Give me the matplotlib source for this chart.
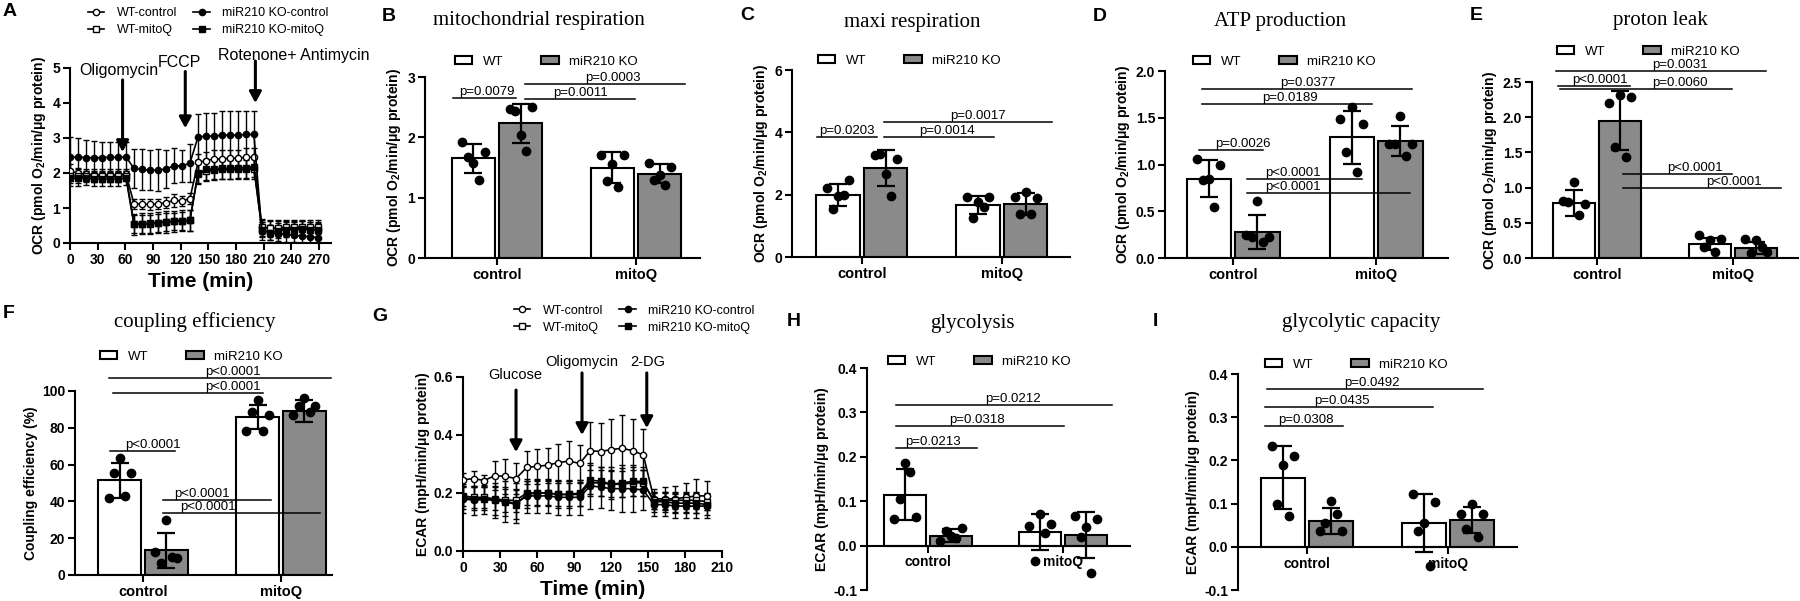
import numpy as np
import matplotlib.pyplot as plt
from matplotlib.patches import Patch
from matplotlib.lines import Line2D

plt.rcParams['font.family'] = 'Liberation Sans'
plt.rcParams['font.weight'] = 'bold'
plt.rcParams['axes.labelweight'] = 'bold'
plt.rcParams['mathtext.fontset'] = 'custom'
plt.rcParams['mathtext.rm'] = 'Liberation Sans:bold'
plt.rcParams['mathtext.it'] = 'Liberation Sans:bold'
plt.rcParams['mathtext.bf'] = 'Liberation Sans:bold'

W, H = 1800, 601
CINZA = '#8a8a8a'

# ---------------- Painel A: OCR ao longo do tempo ----------------
tempo_a = [0, 8.7, 17.3, 26, 34.7, 43.4, 52, 60.7,
           69.4, 78, 86.7, 95.4, 104, 112.7, 121.4, 130,
           138.8, 147.4, 156, 164.8, 173.4, 182, 190.8, 199.4,
           208, 216.8, 225.4, 234, 242.8, 251.4, 260, 268.8]
wt_ctrl_a = [2.05, 2.0, 1.97, 1.95, 1.95, 1.95, 1.95, 1.97,
             1.12, 1.12, 1.1, 1.12, 1.15, 1.22, 1.2, 1.27,
             2.3, 2.35, 2.4, 2.4, 2.42, 2.42, 2.45, 2.45,
             0.45, 0.42, 0.42, 0.42, 0.42, 0.42, 0.4, 0.38]
wt_ctrl_a_err = [0.2, 0.15, 0.15, 0.15, 0.15, 0.15, 0.15, 0.15,
                 0.15, 0.15, 0.15, 0.15, 0.15, 0.18, 0.15, 0.15,
                 0.25, 0.25, 0.25, 0.25, 0.25, 0.25, 0.25, 0.25,
                 0.2, 0.2, 0.2, 0.2, 0.2, 0.2, 0.2, 0.2]
ko_ctrl_a = [2.45, 2.46, 2.44, 2.44, 2.44, 2.45, 2.45, 2.46,
             2.13, 2.1, 2.08, 2.08, 2.12, 2.2, 2.2, 2.28,
             3.03, 3.05, 3.06, 3.08, 3.08, 3.08, 3.1, 3.1,
             0.35, 0.3, 0.27, 0.25, 0.22, 0.2, 0.18, 0.15]
ko_ctrl_a_err = [0.58, 0.55, 0.5, 0.47, 0.45, 0.44, 0.43, 0.42,
                 0.55, 0.58, 0.58, 0.6, 0.55, 0.5, 0.45, 0.55,
                 0.65, 0.65, 0.65, 0.68, 0.68, 0.68, 0.68, 0.68,
                 0.25, 0.22, 0.22, 0.22, 0.2, 0.2, 0.18, 0.15]
wt_mitoq_a = [1.92, 1.9, 1.9, 1.9, 1.9, 1.9, 1.9, 1.92,
              0.55, 0.55, 0.55, 0.57, 0.6, 0.62, 0.63, 0.65,
              2.0, 2.05, 2.08, 2.1, 2.1, 2.1, 2.1, 2.12,
              0.45, 0.42, 0.43, 0.45, 0.45, 0.45, 0.45, 0.45]
wt_mitoq_a_err = [0.2, 0.2, 0.15, 0.15, 0.15, 0.15, 0.15, 0.15,
                  0.25, 0.25, 0.25, 0.25, 0.25, 0.25, 0.25, 0.3,
                  0.28, 0.28, 0.28, 0.28, 0.28, 0.28, 0.28, 0.28,
                  0.25, 0.25, 0.22, 0.22, 0.22, 0.22, 0.22, 0.2]
ko_mitoq_a = [1.85, 1.85, 1.85, 1.83, 1.83, 1.83, 1.83, 1.85,
              0.53, 0.55, 0.56, 0.58, 0.6, 0.62, 0.63, 0.65,
              1.98, 2.1, 2.12, 2.13, 2.13, 2.15, 2.15, 2.18,
              0.38, 0.3, 0.35, 0.38, 0.38, 0.4, 0.38, 0.38]
ko_mitoq_a_err = [0.22, 0.22, 0.2, 0.2, 0.2, 0.2, 0.2, 0.2,
                  0.3, 0.3, 0.3, 0.3, 0.3, 0.3, 0.3, 0.3,
                  0.3, 0.3, 0.3, 0.3, 0.3, 0.3, 0.3, 0.3,
                  0.22, 0.22, 0.22, 0.22, 0.22, 0.22, 0.22, 0.22]
# (x, y topo, y ponta, texto, x texto, y texto, alinhamento)
setas_a = [(57, 4.66, 2.6, 'Oligomycin', 53, 4.94, 'center'),
           (125, 4.9, 3.28, 'FCCP', 119, 5.17, 'center'),
           (201, 5.2, 4.0, 'Rotenone+ Antimycin', 160, 5.37, 'left')]

# ---------------- Painel G: ECAR ao longo do tempo ----------------
tempo_g = [0, 8.6, 17.2, 25.8, 34.4, 43, 51.6, 60.2, 68.8, 77.4, 86, 94.6,
           103.2, 111.8, 120.4, 129, 137.6, 146.2, 154.8, 163.4, 172, 180.6, 189.2, 197.8]
wt_ctrl_g = [0.245, 0.25, 0.243, 0.26, 0.257, 0.25, 0.288, 0.292, 0.296, 0.305, 0.31, 0.302,
             0.346, 0.343, 0.35, 0.354, 0.346, 0.331, 0.18, 0.18, 0.18, 0.185, 0.19, 0.19]
wt_ctrl_g_err = [0.025, 0.025, 0.02, 0.05, 0.06, 0.055, 0.058, 0.06, 0.06, 0.065, 0.07, 0.065,
                 0.1, 0.1, 0.105, 0.115, 0.11, 0.09, 0.035, 0.04, 0.045, 0.05, 0.06, 0.05]
ko_ctrl_g = [0.18, 0.175, 0.178, 0.175, 0.17, 0.165, 0.19, 0.19, 0.19, 0.185, 0.185, 0.185,
             0.225, 0.22, 0.215, 0.215, 0.215, 0.21, 0.16, 0.16, 0.155, 0.155, 0.155, 0.155]
ko_ctrl_g_err = [0.05, 0.05, 0.05, 0.06, 0.07, 0.07, 0.06, 0.06, 0.06, 0.06, 0.06, 0.06,
                 0.08, 0.07, 0.075, 0.08, 0.08, 0.07, 0.04, 0.04, 0.04, 0.04, 0.04, 0.04]
wt_mitoq_g = [0.19, 0.185, 0.185, 0.18, 0.175, 0.175, 0.2, 0.2, 0.2, 0.195, 0.195, 0.195,
              0.235, 0.235, 0.23, 0.23, 0.235, 0.235, 0.175, 0.175, 0.175, 0.175, 0.175, 0.17]
wt_mitoq_g_err = [0.035, 0.035, 0.035, 0.04, 0.04, 0.04, 0.04, 0.04, 0.04, 0.04, 0.04, 0.04,
                  0.045, 0.045, 0.045, 0.045, 0.045, 0.045, 0.03, 0.03, 0.03, 0.03, 0.03, 0.03]
ko_mitoq_g = [0.185, 0.18, 0.18, 0.175, 0.17, 0.16, 0.195, 0.2, 0.2, 0.195, 0.195, 0.2,
              0.245, 0.24, 0.23, 0.235, 0.24, 0.24, 0.17, 0.17, 0.165, 0.165, 0.165, 0.16]
ko_mitoq_g_err = [0.04, 0.04, 0.04, 0.05, 0.05, 0.05, 0.045, 0.045, 0.045, 0.045, 0.045, 0.045,
                  0.05, 0.05, 0.05, 0.05, 0.05, 0.05, 0.035, 0.035, 0.035, 0.035, 0.035, 0.035]
setas_g = [(43, 0.555, 0.341, 'Glucose', 42, 0.607, 'center'),
           (96.5, 0.614, 0.40, 'Oligomycin', 96, 0.652, 'center'),
           (149, 0.614, 0.424, '2-DG', 150, 0.652, 'center')]

# ---------------- Paineis de barras (control, mitoQ) ----------------
grupos = ['control', 'mitoQ']

b_wt_media = [1.65, 1.50]
b_wt_dp = [0.24, 0.26]
b_wt_pts = [[1.93, 1.76, 1.57, 1.68, 1.29], [1.71, 1.70, 1.55, 1.27, 1.17]]
b_ko_media = [2.23, 1.40]
b_ko_dp = [0.32, 0.15]
b_ko_pts = [[2.47, 2.51, 2.04, 2.44, 1.78], [1.57, 1.51, 1.38, 1.29, 1.21]]
b_pvals = [(-0.32, 0.14, 2.65, -0.07, 'p=0.0079'),
           (0.20, 0.99, 2.63, 0.60, 'p=0.0011'),
           (0.20, 1.35, 2.885, 0.83, 'p=0.0003')]

c_wt_media = [2.0, 1.67]
c_wt_dp = [0.35, 0.28]
c_wt_pts = [[2.2, 2.47, 1.96, 1.53, 2.0], [1.93, 1.93, 1.78, 1.25, 1.6]]
c_ko_media = [2.85, 1.7]
c_ko_dp = [0.58, 0.35]
c_ko_pts = [[3.27, 3.16, 2.66, 3.32, 1.96], [1.91, 1.88, 2.07, 1.37, 1.37]]
c_pvals = [(-0.32, 0.11, 3.85, -0.11, 'p=0.0203'),
           (0.16, 0.94, 3.85, 0.61, 'p=0.0014'),
           (0.16, 1.36, 4.33, 0.83, 'p=0.0017')]

d_wt_media = [0.85, 1.29]
d_wt_dp = [0.2, 0.28]
d_wt_pts = [[1.055, 0.99, 0.85, 0.83, 0.55], [1.49, 1.43, 1.62, 1.13, 0.92]]
d_ko_media = [0.28, 1.25]
d_ko_dp = [0.18, 0.16]
d_ko_pts = [[0.25, 0.22, 0.61, 0.22, 0.17], [1.22, 1.22, 1.52, 1.22, 1.09]]
d_pvals = [(-0.22, 1.25, 1.81, 0.52, 'p=0.0377'),
           (-0.22, 0.97, 1.65, 0.40, 'p=0.0189'),
           (-0.24, 0.21, 1.155, 0.07, 'p=0.0026'),
           (0.10, 0.90, 0.85, 0.42, 'p<0.0001'),
           (0.10, 1.24, 0.70, 0.42, 'p<0.0001')]

e_wt_media = [0.78, 0.2]
e_wt_dp = [0.18, 0.09]
e_wt_pts = [[0.81, 0.77, 1.08, 0.80, 0.61], [0.33, 0.27, 0.25, 0.15, 0.09]]
e_ko_media = [1.95, 0.14]
e_ko_dp = [0.42, 0.09]
e_ko_pts = [[2.2, 2.28, 2.31, 1.58, 1.44], [0.27, 0.09, 0.25, 0.07, 0.15]]
e_pvals = [(-0.30, 1.24, 2.66, 0.61, 'p=0.0031'),
           (-0.29, 0.24, 2.44, 0.02, 'p<0.0001'),
           (-0.27, 0.99, 2.40, 0.61, 'p=0.0060'),
           (0.19, 0.99, 1.20, 0.72, 'p<0.0001'),
           (0.19, 1.35, 1.00, 1.01, 'p<0.0001')]

f_wt_media = [51.5, 86.0]
f_wt_dp = [9.5, 6.5]
f_wt_pts = [[42.0, 55.3, 63.8, 55.3, 43.0], [78.4, 87.0, 95.0, 88.8, 78.3]]
f_ko_media = [13.5, 89.0]
f_ko_dp = [9.5, 6.0]
f_ko_pts = [[12.7, 9.0, 29.9, 6.3, 10.0], [87.0, 91.8, 96.0, 91.8, 88.4]]
f_pvals = [(-0.25, 1.36, 107, 0.65, 'p<0.0001'),
           (-0.22, 0.87, 99, 0.65, 'p<0.0001'),
           (-0.24, 0.23, 67.4, 0.07, 'p<0.0001'),
           (0.145, 0.93, 41, 0.43, 'p<0.0001'),
           (0.145, 1.28, 33.7, 0.47, 'p<0.0001')]

h_wt_media = [0.115, 0.03]
h_wt_dp = [0.058, 0.041]
h_wt_pts = [[0.061, 0.065, 0.185, 0.106, 0.166], [0.044, 0.049, 0.071, -0.035, 0.029]]
h_ko_media = [0.022, 0.024]
h_ko_dp = [0.015, 0.052]
h_ko_pts = [[0.01, 0.04, 0.021, 0.034, 0.017], [0.066, 0.059, 0.041, 0.02, -0.062]]
h_pvals = [(-0.24, 1.36, 0.317, 0.63, 'p=0.0212'),
           (-0.24, 1.01, 0.27, 0.36, 'p=0.0318'),
           (-0.24, 0.36, 0.22, 0.04, 'p=0.0213')]

i_wt_media = [0.16, 0.055]
i_wt_dp = [0.073, 0.067]
i_wt_pts = [[0.234, 0.211, 0.189, 0.1, 0.072], [0.123, 0.104, 0.056, 0.037, -0.044]]
i_ko_media = [0.06, 0.062]
i_ko_dp = [0.03, 0.031]
i_ko_pts = [[0.037, 0.037, 0.106, 0.056, 0.076], [0.076, 0.076, 0.1, 0.042, 0.022]]
i_pvals = [(-0.28, 1.25, 0.365, 0.46, 'p=0.0492'),
           (-0.30, 0.89, 0.323, 0.25, 'p=0.0435'),
           (-0.30, 0.255, 0.279, -0.01, 'p=0.0308')]

OCR_LABEL = 'OCR (pmol O$_2$/min/\u03bcg protein)'
ECAR_LABEL = 'ECAR (mpH/min/\u03bcg protein)'

JITTER = [-0.08, 0.08, 0.0, -0.04, 0.04]
DX, BW = 0.17, 0.31

fig = plt.figure(figsize=(W / 100, H / 100), dpi=100)


def eixo(l, t, r, b):
    return fig.add_axes([l / W, 1 - b / H, (r - l) / W, (b - t) / H])


def fx(x):
    return x / W


def fy(y):
    return 1 - y / H


def estilo(ax):
    for s in ['top', 'right']:
        ax.spines[s].set_visible(False)
    for s in ['left', 'bottom']:
        ax.spines[s].set_linewidth(1.5)
    ax.tick_params(direction='out', length=5, width=1.5, labelsize=10, pad=2)


def barras(ax, wt_m, wt_sd, wt_pts, ko_m, ko_sd, ko_pts, xlim, ylim, yticks, fmt,
           pvals, ylabel, leg_xy, zero=False):
    estilo(ax)
    x = np.arange(len(grupos))
    for off, m, sd, pts, cor in [(-DX, wt_m, wt_sd, wt_pts, 'white'),
                                 (DX, ko_m, ko_sd, ko_pts, CINZA)]:
        ax.bar(x + off, m, width=BW, color=cor, edgecolor='k', linewidth=1.5, zorder=1)
        ax.errorbar(x + off, m, yerr=sd, fmt='none', ecolor='k', elinewidth=1.6,
                    capsize=6.5, capthick=1.6, zorder=3, clip_on=False)
        for g in range(len(grupos)):
            ax.plot(x[g] + off + np.array(JITTER), pts[g], 'o', color='k', ms=6,
                    zorder=4, clip_on=False)
    for x1, x2, y, xt, txt in pvals:
        ax.plot([x1, x2], [y, y], color='k', lw=1.1, clip_on=False, zorder=5)
        ax.text(xt, y, txt, ha='center', va='bottom', fontsize=9.5,
                fontweight='normal', clip_on=False)
    ax.set_xlim(*xlim)
    ax.set_ylim(*ylim)
    ax.set_yticks(yticks)
    ax.set_yticklabels([fmt.format(v) for v in yticks])
    ax.set_xticks(x)
    ax.set_xticklabels(grupos, fontsize=10.5)
    ax.set_ylabel(ylabel, fontsize=10, labelpad=3)
    if zero:
        ax.spines['bottom'].set_position(('data', 0))
    handles = [Patch(facecolor='white', edgecolor='k', linewidth=1.5),
               Patch(facecolor=CINZA, edgecolor='k', linewidth=1.5)]
    fig.legend(handles, ['WT', 'miR210 KO'], loc='center left',
               bbox_to_anchor=(fx(leg_xy[0]), fy(leg_xy[1])),
               ncol=2, frameon=False, borderpad=0, borderaxespad=0,
               handlelength=1.3, handleheight=0.55, handletextpad=0.8,
               columnspacing=2.9, prop={'family': 'Liberation Sans',
                                        'weight': 'normal', 'size': 9.5})


def curvas(ax, t, series, setas, xlim, xticks, ylim, yticks, fmt, ylabel, leg_xy,
           seta_fs):
    estilo(ax)
    for y, err, mk, mfc, lab in series:
        ax.errorbar(t, y, yerr=err, fmt='none', ecolor='k', elinewidth=1,
                    capsize=2.5, capthick=1, zorder=2)
        ax.plot(t, y, color='k', lw=1.2, marker=mk, ms=4.5, mfc=mfc, mec='k',
                mew=1, zorder=3)
    for xs, ytop, ytip, txt, xt, yt, ha in setas:
        ax.annotate('', xy=(xs, ytip), xytext=(xs, ytop),
                    arrowprops=dict(arrowstyle='-|>,head_length=0.55,head_width=0.3',
                                    lw=2.2, color='k', shrinkA=0, shrinkB=0,
                                    mutation_scale=12),
                    annotation_clip=False)
        ax.text(xt, yt, txt, ha=ha, va='center', fontsize=seta_fs, fontweight='normal',
                clip_on=False)
    ax.set_xlim(*xlim)
    ax.set_ylim(*ylim)
    ax.set_xticks(xticks)
    ax.set_yticks(yticks)
    ax.set_yticklabels([fmt.format(v) for v in yticks])
    ax.set_xlabel('Time (min)', fontsize=15, labelpad=4)
    ax.set_ylabel(ylabel, fontsize=10, labelpad=3)
    handles = [Line2D([], [], color='k', lw=1.2, marker=mk, ms=4.5, mfc=mfc, mec='k')
               for _, _, mk, mfc, _ in series]
    labels = [s[4] for s in series]
    fig.legend(handles, labels, loc='center left',
               bbox_to_anchor=(fx(leg_xy[0]), fy(leg_xy[1])),
               ncol=2, frameon=False, borderpad=0, borderaxespad=0,
               handlelength=1.3, handletextpad=1.0, columnspacing=1.3,
               labelspacing=0.4,
               prop={'family': 'Liberation Sans', 'weight': 'normal', 'size': 9})


# A
ax = eixo(70, 68, 331, 243)
curvas(ax, tempo_a,
       [(wt_ctrl_a, wt_ctrl_a_err, 'o', 'white', 'WT-control'),
        (wt_mitoq_a, wt_mitoq_a_err, 's', 'white', 'WT-mitoQ'),
        (ko_ctrl_a, ko_ctrl_a_err, 'o', 'black', 'miR210 KO-control'),
        (ko_mitoq_a, ko_mitoq_a_err, 's', 'black', 'miR210 KO-mitoQ')],
       setas_a, (0, 283), range(0, 271, 30), (0, 5), range(0, 6), '{:d}',
       OCR_LABEL, (88, 22), 11.5)

# G
ax = eixo(463, 377, 722, 551)
curvas(ax, tempo_g,
       [(wt_ctrl_g, wt_ctrl_g_err, 'o', 'white', 'WT-control'),
        (wt_mitoq_g, wt_mitoq_g_err, 's', 'white', 'WT-mitoQ'),
        (ko_ctrl_g, ko_ctrl_g_err, 'o', 'black', 'miR210 KO-control'),
        (ko_mitoq_g, ko_mitoq_g_err, 's', 'black', 'miR210 KO-mitoQ')],
       setas_g, (0, 210), range(0, 211, 30), (0, 0.6), [0.0, 0.2, 0.4, 0.6], '{:.1f}',
       ECAR_LABEL, (514, 319), 10.5)

# B - E, F, H, I
barras(eixo(425, 77, 700, 258), b_wt_media, b_wt_dp, b_wt_pts, b_ko_media, b_ko_dp, b_ko_pts,
       (-0.518, 1.46), (0, 3), [0, 1, 2, 3], '{:d}', b_pvals, OCR_LABEL, (455, 62))
barras(eixo(792, 70, 1070, 257), c_wt_media, c_wt_dp, c_wt_pts, c_ko_media, c_ko_dp, c_ko_pts,
       (-0.5, 1.486), (0, 6), [0, 2, 4, 6], '{:d}', c_pvals, OCR_LABEL, (818, 61))
barras(eixo(1165, 71, 1448, 258), d_wt_media, d_wt_dp, d_wt_pts, d_ko_media, d_ko_dp, d_ko_pts,
       (-0.476, 1.503), (0, 2), [0.0, 0.5, 1.0, 1.5, 2.0], '{:.1f}', d_pvals, OCR_LABEL,
       (1193, 62))
barras(eixo(1532, 82, 1798, 258), e_wt_media, e_wt_dp, e_wt_pts, e_ko_media, e_ko_dp, e_ko_pts,
       (-0.478, 1.478), (0, 2.5), [0.0, 0.5, 1.0, 1.5, 2.0, 2.5], '{:.1f}', e_pvals, OCR_LABEL,
       (1557, 52))
barras(eixo(75, 391, 332, 575), f_wt_media, f_wt_dp, f_wt_pts, f_ko_media, f_ko_dp, f_ko_pts,
       (-0.493, 1.37), (0, 100), [0, 20, 40, 60, 80, 100], '{:d}', f_pvals,
       'Coupling efficiency (%)', (100, 357))
barras(eixo(867, 368, 1130, 590), h_wt_media, h_wt_dp, h_wt_pts, h_ko_media, h_ko_dp, h_ko_pts,
       (-0.452, 1.496), (-0.1, 0.4), [-0.1, 0.0, 0.1, 0.2, 0.3, 0.4], '{:.1f}', h_pvals,
       ECAR_LABEL, (888, 362), zero=True)
barras(eixo(1238, 374, 1517, 590), i_wt_media, i_wt_dp, i_wt_pts, i_ko_media, i_ko_dp, i_ko_pts,
       (-0.489, 1.489), (-0.1, 0.4), [-0.1, 0.0, 0.1, 0.2, 0.3, 0.4], '{:.1f}', i_pvals,
       ECAR_LABEL, (1265, 365), zero=True)

# titulos e letras
titulos = [('mitochondrial respiration', 539, 25), ('maxi respiration', 912, 27),
           ('ATP production', 1280, 26), ('proton leak', 1660, 25),
           ('coupling efficiency', 195, 327), ('glycolysis', 972, 328),
           ('glycolytic capacity', 1361, 327)]
for txt, x, y in titulos:
    fig.text(fx(x), fy(y), txt, ha='center', va='baseline', fontsize=15,
             family='Liberation Serif', fontweight='normal')

letras = [('A', 3, 3), ('B', 382, 8), ('C', 740, 7), ('D', 1093, 8), ('E', 1470, 7),
          ('F', 3, 305), ('G', 372, 308), ('H', 787, 313), ('I', 1153, 313)]
for txt, x, y in letras:
    fig.text(fx(x), fy(y), txt, ha='left', va='top', fontsize=14, fontweight='bold')

fig.savefig('out.png', dpi=100)
